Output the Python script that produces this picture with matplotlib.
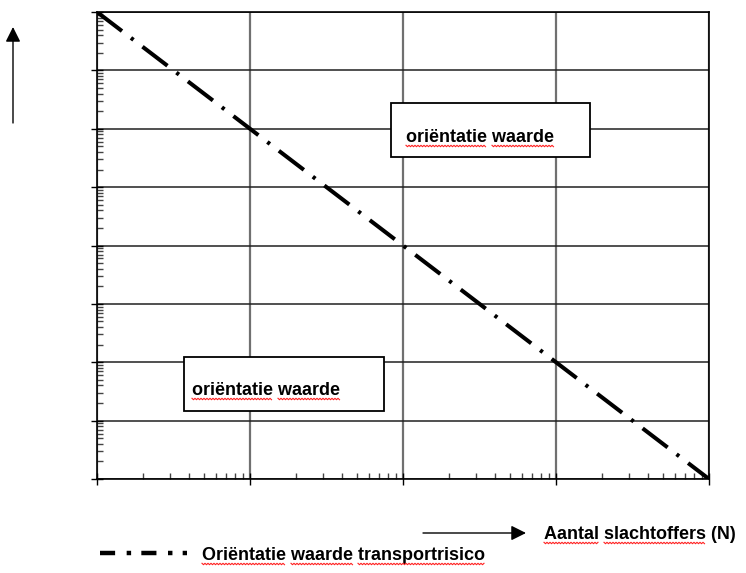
import numpy as np
import matplotlib.pyplot as plt
from matplotlib.ticker import LogLocator, NullFormatter
from matplotlib.patches import Rectangle, FancyArrowPatch
from matplotlib.lines import Line2D

# Gegevens.
slachtoffers = [1, 10, 100, 1000, 10000]
kans = [1e-4, 1e-6, 1e-8, 1e-10, 1e-12]
xlim = [1, 10000]
ylim = [1e-12, 1e-4]

label_lijn = 'Oriëntatie waarde transportrisico'
label_x = 'Aantal slachtoffers (N)'
label_vak = 'oriëntatie waarde'

W, H = 746, 573
plt.rcParams['font.family'] = ['Liberation Sans', 'DejaVu Sans']

fig = plt.figure(figsize=(W / 100, H / 100), dpi=100)

def px(x, y):
    # pixels vanaf linksboven -> figuurcoordinaten
    return x / W, 1 - y / H

l, t = px(97, 12)
r, b = px(709, 479)
ax = fig.add_axes([l, b, r - l, t - b])

ax.plot(slachtoffers, kans, color='black', lw=2.9,
        linestyle=(0, (7.8, 2.8, 0.8, 2.8)), solid_capstyle='butt', zorder=3)
ax.set_xscale('log')
ax.set_yscale('log')
ax.set_xlim(xlim)
ax.set_ylim(ylim)

for as_ in (ax.xaxis, ax.yaxis):
    as_.set_major_locator(LogLocator(base=10, numticks=20))
    as_.set_minor_locator(LogLocator(base=10, subs=np.arange(2, 10), numticks=200))
    as_.set_major_formatter(NullFormatter())
    as_.set_minor_formatter(NullFormatter())

ax.tick_params(which='major', direction='inout', length=8, width=1, color='black')
ax.tick_params(which='minor', direction='in', length=4, width=1, color='#444444')
ax.xaxis.grid(True, which='major', color='#707070', lw=1.6)
ax.yaxis.grid(True, which='major', color='#202020', lw=1.1)
for s in ax.spines.values():
    s.set_linewidth(1.2)

# Vakjes met tekst
def vak(x0, y0, x1, y1, tx, ty, tekst):
    xa, ya = px(x0, y1)
    xb, yb = px(x1, y0)
    fig.add_artist(Rectangle((xa, ya), xb - xa, yb - ya, transform=fig.transFigure,
                             facecolor='white', edgecolor='black', lw=1.3, zorder=5))
    return fig.text(*px(tx, ty), tekst, fontsize=13, fontweight='bold',
                    va='baseline', ha='left', zorder=6)

t1 = vak(391, 103, 590, 157, 406, 142, label_vak)
t2 = vak(184, 357, 384, 411, 192, 395, label_vak)

# Pijlen
pijl = '-|>,head_length=0.6,head_width=0.3'
fig.add_artist(FancyArrowPatch(px(13, 123), px(13, 27), transform=fig.transFigure,
                               arrowstyle=pijl, mutation_scale=15, color='black', lw=1,
                               shrinkA=0, shrinkB=0))
fig.add_artist(FancyArrowPatch(px(423, 533), px(526, 533), transform=fig.transFigure,
                               arrowstyle=pijl, mutation_scale=15, color='black', lw=1,
                               shrinkA=0, shrinkB=0))

t3 = fig.text(*px(544, 539), label_x, fontsize=13, fontweight='bold', va='baseline', ha='left')

# Legenda
fig.add_artist(Line2D([100 / W, 187 / W], [1 - 553 / H, 1 - 553 / H], transform=fig.transFigure,
                      color='black', lw=3.2, solid_capstyle='butt',
                      linestyle=(0, (3.4, 2.6, 1.0, 2.3, 3.4, 2.6, 1.0, 2.3, 1.0, 6))))
t4 = fig.text(*px(202, 560), label_lijn, fontsize=13, fontweight='bold', va='baseline', ha='left')

# Rode golflijntjes (spellingscontrole)
fig.canvas.draw()
renderer = fig.canvas.get_renderer()

def breedte(s):
    tmp = fig.text(0, 0, s, fontsize=13, fontweight='bold')
    w = tmp.get_window_extent(renderer).width
    tmp.remove()
    return w

def golf(tekst_obj, woorden):
    s = tekst_obj.get_text()
    x0, y0 = tekst_obj.get_position()
    x0 *= W
    y0 = y0 * H - 4
    for wrd in woorden:
        i = s.index(wrd)
        xa = x0 + (breedte(s[:i]) if i > 0 else 0)
        xb = x0 + breedte(s[:i + len(wrd)])
        xs = np.arange(xa, xb, 1.5)
        ys = y0 + np.where(np.arange(len(xs)) % 2 == 0, 0.7, -0.7)
        fig.add_artist(Line2D(xs / W, ys / H, transform=fig.transFigure,
                              color='#ff2020', lw=0.8, zorder=7))

golf(t1, ['oriëntatie', 'waarde'])
golf(t2, ['oriëntatie', 'waarde'])
golf(t3, ['Aantal', 'slachtoffers'])
golf(t4, ['Oriëntatie', 'waarde', 'transportrisico'])

fig.savefig('out.png', dpi=100)
